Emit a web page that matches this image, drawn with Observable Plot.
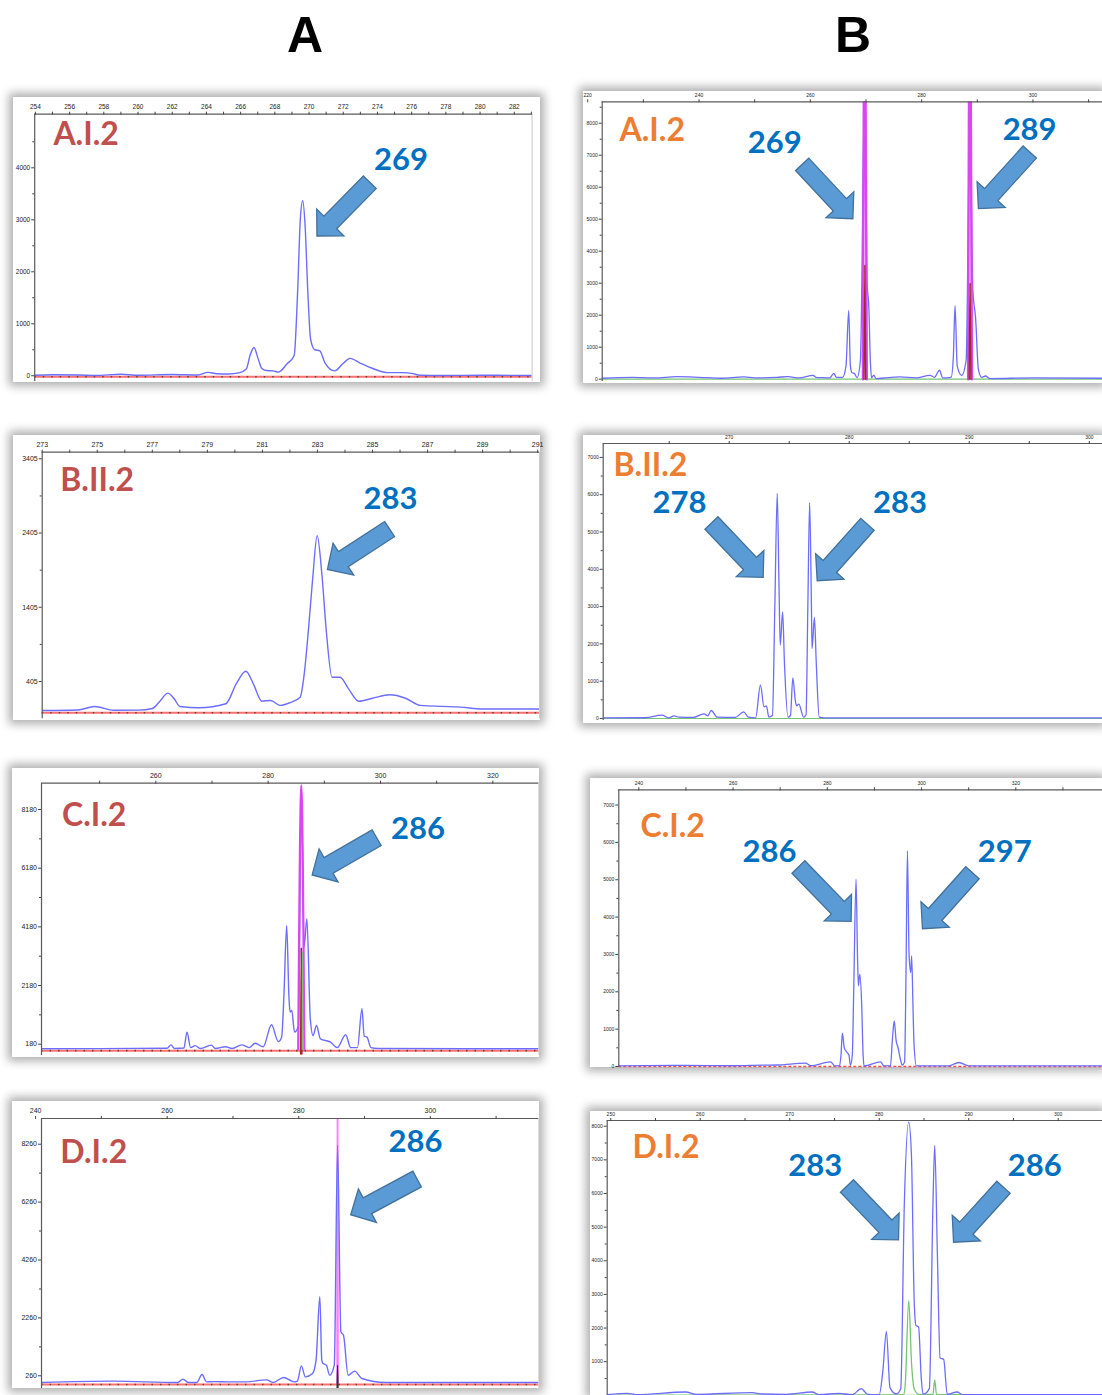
<!DOCTYPE html>
<html>
<head>
<meta charset="utf-8">
<script src="https://cdn.jsdelivr.net/npm/d3@7"></script>
<script src="https://cdn.jsdelivr.net/npm/@observablehq/plot@0.6"></script>
<style>
  html,body{margin:0;padding:0;background:#fff;}
  #page{position:relative;width:1102px;height:1395px;overflow:hidden;background:#fff;}
  .panel{position:absolute;background:#fff;box-shadow:0 0 9px 4px rgba(0,0,0,0.32);}
  .panel svg{display:block;overflow:visible;}
  .head{position:absolute;top:10px;width:100px;margin-left:-50px;text-align:center;font:bold 50px "Liberation Sans",Arial,sans-serif;line-height:50px;color:#000;}
</style>
</head>
<body>
<div id="page"></div>
<script>
// ---------------- column headers & panel titles ----------------
const headers = ["A", "B"];
const titles = ["A.I.2", "B.II.2", "C.I.2", "D.I.2"];

// ---------------- peak calls ----------------
const a1Calls = ["269"];
const a2Calls = ["283"];
const a3Calls = ["286"];
const a4Calls = ["286"];
const b1Calls = ["269", "289"];
const b2Calls = ["278", "283"];
const b3Calls = ["286", "297"];
const b4Calls = ["283", "286"];

// ---------------- tick values ----------------
const a1XLabels = [254,256,258,260,262,264,266,268,270,272,274,276,278,280,282];
const a1XMinor  = [255,257,259,261,263,265,267,269,271,273,275,277,279,281,283];
const a1YLabels = [0,1000,2000,3000,4000];
const a1YMinor  = [500,1500,2500,3500,4500];

const a2XLabels = [273,275,277,279,281,283,285,287,289,291];
const a2XMinor  = [274,276,278,280,282,284,286,288,290];
const a2YLabels = [405,1405,2405,3405];
const a2YMinor  = [905,1905,2905];

const a3XLabels = [260,280,300,320];
const a3XMinor  = [250,270,290,310];
const a3YLabels = [180,2180,4180,6180,8180];
const a3YMinor  = [1180,3180,5180,7180];

const a4XLabels = [240,260,280,300];
const a4XMinor  = [250,270,290,310];
const a4YLabels = [260,2260,4260,6260,8260];
const a4YMinor  = [1260,3260,5260,7260];

const b1XLabels = [220,240,260,280,300];
const b1XMinor  = [230,250,270,290,310];
const b1YLabels = [0,1000,2000,3000,4000,5000,6000,7000,8000];
const b1YMinor  = [500,1500,2500,3500,4500,5500,6500,7500,8500];

const b2XLabels = [270,280,290,300];
const b2XMinor  = [265,275,285,295];
const b2YLabels = [0,1000,2000,3000,4000,5000,6000,7000];
const b2YMinor  = [500,1500,2500,3500,4500,5500,6500];

const b3XLabels = [240,260,280,300,320];
const b3XMinor  = [250,270,290,310,330];
const b3YLabels = [0,1000,2000,3000,4000,5000,6000,7000];
const b3YMinor  = [500,1500,2500,3500,4500,5500,6500];

const b4XLabels = [250,260,270,280,290,300];
const b4XMinor  = [255,265,275,285,295];
const b4YLabels = [1000,2000,3000,4000,5000,6000,7000,8000];
const b4YMinor  = [500,1500,2500,3500,4500,5500,6500,7500];

// ---------------- traces: [size (bp), RFU] ----------------
const a1Blue = [[253.96,10],[255,20],[256.6,15],[257.5,5],[259,30],[260,10],[262,25],[263.5,15],[264.1,65],[264.6,40],[265.3,35],[265.9,55],[266.33,130],[266.55,390],[266.78,545],[267.03,320],[267.23,145],[267.5,100],[267.9,95],[268.2,70],[268.7,225],[269.13,390],[269.33,1600],[269.49,3010],[269.63,3365],[269.77,2880],[269.93,1600],[270.09,705],[270.33,500],[270.63,480],[270.93,250],[271.5,95],[272.0,240],[272.4,335],[273.0,240],[273.8,130],[274.6,60],[275.5,60],[276.0,45],[276.5,10],[278,5],[280,10],[283.04,5]];

const a2Blue = [[273.0,15],[274.3,22],[274.9,69],[275.6,18],[276.5,20],[277.0,42],[277.3,150],[277.56,248],[277.8,170],[278.0,69],[278.7,51],[279.67,105],[280.05,374],[280.4,544],[280.67,374],[280.98,140],[281.3,150],[281.65,83],[282.0,120],[282.37,194],[282.52,509],[282.67,1091],[282.83,1809],[282.99,2370],[283.16,1854],[283.32,1091],[283.53,463],[283.82,463],[284.13,306],[284.5,140],[285.0,180],[285.63,226],[286.2,180],[286.75,83],[287.5,70],[288.2,60],[289,35],[291.07,35]];

const a3Blue = [[239.65,23],[250,30],[262.0,40],[262.7,158],[263.3,34],[265.0,50],[265.55,590],[266.2,63],[267.0,130],[267.9,34],[269.9,147],[270.6,34],[272.4,91],[273.6,34],[275.3,158],[276.6,63],[277.7,214],[279.1,91],[280.6,841],[281.8,270],[282.4,420],[282.8,1800],[283.3,4228],[283.7,1800],[283.9,1272],[284.2,1329],[284.7,590],[285.4,818],[285.9,8800],[286.4,3500],[286.9,4456],[287.5,1044],[288.0,476],[288.6,818],[289.3,363],[291.1,250],[292.3,63],[293.8,500],[294.7,63],[295.9,63],[296.7,1386],[297.1,453],[297.6,420],[298.3,63],[299.5,34],[328.2,23]];
const a3Magenta = [[285.35,0],[285.9,9000],[286.45,0]];
const a3Dark = [[285.8,-150],[285.9,3450],[286.0,-150]];
const a3Green = [[286.05,0],[286.12,3300],[286.2,0]];

const a4Blue = [[240.9,29],[251.8,75],[261.6,29],[262.4,143],[263.2,29],[264.5,29],[265.3,305],[266.0,50],[267.1,60],[269.4,50],[272.0,50],[275.1,120],[276.1,29],[277.7,200],[279.3,50],[279.8,80],[280.4,604],[281.0,224],[282.1,340],[282.63,800],[283.2,2989],[283.5,800],[283.7,685],[284.2,627],[284.7,281],[285.4,627],[285.9,8225],[286.4,1780],[286.8,1664],[287.5,281],[288.5,420],[289.6,166],[293.2,29],[316.5,29]];
const a4Magenta = [[285.82,0],[285.9,14000],[285.98,0]];
const a4Dark = [[285.84,-150],[285.9,627],[285.96,-150]];

const b1Blue = [[222.6,30],[228,60],[232,40],[236,80],[240,60],[244,30],[248,70],[250,40],[254,60],[256,80],[258,40],[260.5,120],[261,60],[262,50],[263.5,40],[264.2,180],[264.7,60],[265.8,60],[266.4,400],[266.9,2150],[267.2,400],[267.5,200],[267.9,180],[268.4,50],[269.0,600],[269.8,9500],[270.2,3000],[270.5,2300],[270.8,500],[271.0,40],[271.4,130],[271.8,20],[274,50],[276,70],[279,40],[281.5,120],[282.3,60],[283.2,280],[283.8,40],[285.3,60],[285.7,700],[286.0,2300],[286.4,400],[287.2,120],[288.0,600],[288.7,8450],[289.2,2800],[289.7,1900],[290.2,300],[290.8,60],[291.5,100],[292.2,20],[300,40],[312.5,30]];
const b1Magenta269 = [[269.45,0],[269.8,14000],[270.15,0]];
const b1Magenta289 = [[288.35,0],[288.7,14000],[289.05,0]];
const b1Dark269 = [[269.65,0],[269.8,3560],[269.95,0]];
const b1Dark289 = [[288.55,0],[288.7,2990],[288.85,0]];

const b2Blue = [[259.5,18],[263,20],[264.4,89],[264.96,18],[265.4,71],[265.8,36],[267.0,30],[267.9,125],[268.2,71],[268.5,214],[269.0,36],[270.5,30],[271.2,179],[271.6,36],[272.2,18],[272.6,893],[272.9,313],[273.1,340],[273.3,36],[273.6,80],[273.8,3000],[274.0,6032],[274.15,3500],[274.25,1966],[274.45,2860],[274.6,1500],[274.9,36],[275.1,80],[275.3,1090],[275.5,500],[275.6,340],[275.8,385],[276.2,36],[276.4,100],[276.55,3000],[276.7,5790],[276.85,3000],[276.9,1877],[277.1,2708],[277.25,1500],[277.5,36],[278,18],[301.1,18]];

const b3Blue = [[235.75,18],[250,30],[260,20],[266.2,36],[269.4,40],[275.4,89],[276.5,20],[280.7,125],[281.6,18],[282.6,18],[282.9,300],[283.2,893],[283.6,500],[284.2,375],[284.6,300],[284.9,30],[285.3,300],[285.6,2000],[286.1,5015],[286.4,3000],[286.6,2159],[286.9,2471],[287.3,1624],[287.6,300],[287.8,18],[291.3,125],[292.0,18],[293.4,18],[293.8,700],[294.2,1222],[294.6,700],[295.0,509],[295.5,200],[295.9,40],[296.4,120],[296.7,2500],[297.0,5775],[297.35,3000],[297.7,2517],[297.9,2963],[298.2,1500],[298.4,600],[298.9,18],[305.8,18],[307.9,107],[310.0,18],[338.4,18]];

const b4Blue = [[249.6,20],[251.9,60],[252.8,20],[258.4,99],[259.5,30],[265.8,80],[266.9,40],[269.6,30],[272.5,99],[273.3,20],[275.5,60],[277.0,20],[278.0,198],[278.7,30],[280.0,20],[280.4,713],[280.8,1901],[281.2,228],[281.9,40],[282.4,198],[282.8,5645],[283.3,8120],[283.6,7130],[283.9,2872],[284.1,2080],[284.4,2030],[284.7,495],[284.9,30],[285.6,198],[286.0,5645],[286.2,7427],[286.5,4159],[286.8,1109],[287.2,1069],[287.6,30],[288.7,99],[289.3,20],[304.95,20]];
const b4Green = [[249.6,0],[282.7,10],[282.9,300],[283.3,2822],[283.6,1000],[283.9,200],[284.4,30],[286.0,30],[286.2,460],[286.4,30],[304.95,0]];

// ---------------- styling constants ----------------
const BLUE = "#6c6cff", MAGENTA = "#dc46f0", PINK = "#ff80ff", DARK = "#9e2a2a", GREEN = "#74c474";
const RED_A = "#ff6f6f", TITLE_A = "#c0504d", TITLE_B = "#ed7d31", CALL = "#0070c0";
const FONT = "Lato, 'Open Sans', sans-serif";

// ---------------- layout of the eight panels ----------------
const panels = [
  {box:[12.7,97,527.1,285], margin:[16.7,8.5,1,21.2], xd:[253.96,283.04], yd:[-110,5031],
   xLabels:a1XLabels, xMinor:a1XMinor, yLabels:a1YLabels, yMinor:a1YMinor, tickFont:6.5,
   title:titles[0], titleColor:TITLE_A, titleDx:18.7, titleDy:8.3,
   base:{y:-20, color:RED_A, width:2, noise:true},
   traces:[{data:a1Blue, color:BLUE, width:1.4}],
   calls:a1Calls, callPos:[[275.38,4150]], arrows:[[273.58,3712,270.49,2679]]},
  {box:[12.7,435,527.8,285], margin:[16.7,1.7,1.7,28.7], xd:[273,291.07], yd:[-97,3494],
   xLabels:a2XLabels, xMinor:a2XMinor, yLabels:a2YLabels, yMinor:a2YMinor, tickFont:7,
   title:titles[1], titleColor:TITLE_A, titleDx:18.1, titleDy:16.3,
   base:{y:-15, color:RED_A, width:2, noise:true},
   traces:[{data:a2Blue, color:BLUE, width:1.4}],
   calls:a2Calls, callPos:[[285.65,2868]], arrows:[[285.64,2451,283.38,1908]]},
  {box:[11.7,768,527.1,289], margin:[14.7,0.7,2,29], xd:[239.65,328.2], yd:[-205,9077],
   xLabels:a3XLabels, xMinor:a3XMinor, yLabels:a3YLabels, yMinor:a3YMinor, tickFont:7,
   title:titles[2], titleColor:TITLE_A, titleDx:20.5, titleDy:20.3,
   base:{y:-40, color:RED_A, width:2, noise:true},
   traces:[{data:a3Blue, color:BLUE, width:1.4},{data:a3Magenta, color:MAGENTA, width:2.2},{data:a3Dark, color:DARK, width:1.6},{data:a3Green, color:GREEN, width:1}],
   calls:a3Calls, callPos:[[306.68,7500]], arrows:[[299.4,7203,287.92,5932]]},
  {box:[11.7,1101,527.1,287], margin:[17,0.7,0,29], xd:[240.9,316.5], yd:[-178,9148],
   xLabels:a4XLabels, xMinor:a4XMinor, yLabels:a4YLabels, yMinor:a4YMinor, tickFont:7,
   title:titles[3], titleColor:TITLE_A, titleDx:18.8, titleDy:22,
   base:{y:-40, color:RED_A, width:2, noise:true},
   traces:[{data:a4Magenta, color:PINK, width:1.6},{data:a4Blue, color:BLUE, width:1.4},{data:a4Dark, color:"#303030", width:1.4}],
   calls:a4Calls, callPos:[[297.73,8336]], arrows:[[298.07,7041,287.97,5808]]},
  {box:[583,91,519,292], margin:[10.3,0,2,18.7], xd:[222.6,312.5], yd:[-72,8669],
   xLabels:b1XLabels, xMinor:b1XMinor, yLabels:b1YLabels, yMinor:b1YMinor, tickFont:5,
   title:titles[0], titleColor:TITLE_B, titleDx:17.3, titleDy:16.7,
   base:{y:0, color:GREEN, width:1.2},
   traces:[{data:b1Blue, color:BLUE, width:1.3},{data:b1Magenta269, color:MAGENTA, width:2.4},{data:b1Magenta289, color:MAGENTA, width:2.4},{data:b1Dark269, color:DARK, width:1.4},{data:b1Dark289, color:DARK, width:1.4}],
   calls:b1Calls, callPos:[[253.59,7381],[299.4,7788]], arrows:[[258.62,6700,267.73,5000],[299.52,7084,290.29,5313]]},
  {box:[583,435,519,288], margin:[8,0,3,19.7], xd:[259.5,301.1], yd:[-54,7373],
   xLabels:b2XLabels, xMinor:b2XMinor, yLabels:b2YLabels, yMinor:b2YMinor, tickFont:5,
   title:titles[1], titleColor:TITLE_B, titleDx:10.3, titleDy:10,
   base:{y:0, color:GREEN, width:1.2},
   traces:[{data:b2Blue, color:BLUE, width:1.3}],
   calls:b2Calls, callPos:[[265.85,5764],[284.23,5764]], arrows:[[268.56,5228,272.87,3772],[281.56,5193,277.37,3681]]},
  {box:[590,778,512,289], margin:[11.3,0,0,28.3], xd:[235.75,338.4], yd:[-27,7408],
   xLabels:b3XLabels, xMinor:b3XMinor, yLabels:b3YLabels, yMinor:b3YMinor, tickFont:5,
   title:titles[2], titleColor:TITLE_B, titleDx:21.7, titleDy:24.7,
   base:{y:0, color:"#ff4a4a", width:1.4, dash:"3,2"},
   traces:[{data:b3Blue, color:BLUE, width:1.3}],
   calls:b3Calls, callPos:[[267.75,5743],[317.64,5743]], arrows:[[273.97,5328,285.16,3874],[310.91,5175,300.3,3676]]},
  {box:[590,1111,512,284], margin:[9,0,0,16.7], xd:[249.6,304.95], yd:[-5,8170],
   xLabels:b4XLabels, xMinor:b4XMinor, yLabels:b4YLabels, yMinor:b4YMinor, tickFont:5,
   title:titles[3], titleColor:TITLE_B, titleDx:25.3, titleDy:15,
   base:{y:0, color:GREEN, width:1.2},
   traces:[{data:b4Green, color:GREEN, width:1.3},{data:b4Blue, color:BLUE, width:1.3}],
   calls:b4Calls, callPos:[[272.85,6818],[297.37,6818]], arrows:[[276.45,6209,282.21,4605],[293.94,6171,288.36,4537]]}
];

// block arrow drawn through the chart's scales
function blockArrows(arrows) {
  return (index, scales) => {
    const g = d3.create("svg:g");
    for (const [ax, ay, bx, by] of arrows) {
      const x0 = scales.x(ax), y0 = scales.y(ay), x1 = scales.x(bx), y1 = scales.y(by);
      const dx = x1 - x0, dy = y1 - y0, len = Math.hypot(dx, dy);
      const ux = dx / len, uy = dy / len, px = -uy, py = ux;
      const sw = 9, hw = 19, hl = 19;
      const hx = x1 - ux * hl, hy = y1 - uy * hl;
      const pts = [
        [x0 + px * sw, y0 + py * sw], [hx + px * sw, hy + py * sw], [hx + px * hw, hy + py * hw],
        [x1, y1],
        [hx - px * hw, hy - py * hw], [hx - px * sw, hy - py * sw], [x0 - px * sw, y0 - py * sw]
      ];
      g.append("polygon")
        .attr("points", pts.map(p => p.join(",")).join(" "))
        .attr("fill", "#5b9bd5").attr("stroke", "#41719c").attr("stroke-width", 1.3)
        .attr("stroke-linejoin", "miter");
    }
    return g.node();
  };
}

const page = document.getElementById("page");
headers.forEach((h, i) => {
  const d = document.createElement("div");
  d.className = "head";
  d.style.left = (i === 0 ? 305 : 853) + "px";
  d.textContent = h;
  page.appendChild(d);
});

for (const p of panels) {
  const [L, T, W, H] = p.box;
  const [mt, mr, mb, ml] = p.margin;
  const marks = [];
  marks.push(Plot.ruleY([p.base.y], {stroke: p.base.color, strokeWidth: p.base.width, strokeDasharray: p.base.dash}));
  if (p.base.noise) marks.push(Plot.ruleY([p.base.y], {stroke: "#243824", strokeWidth: 1.6, strokeDasharray: "1.5,7", strokeOpacity: 0.75}));
  for (const t of p.traces) {
    marks.push(Plot.line(t.data, {x: d => d[0], y: d => d[1], stroke: t.color, strokeWidth: t.width, curve: "monotone-x", clip: true}));
  }
  marks.push(Plot.ruleX([p.xd[0]], {stroke: "#5a5a5a", strokeWidth: 1.2}));
  marks.push(Plot.ruleY([p.yd[1]], {stroke: "#5a5a5a", strokeWidth: 1.2}));
  marks.push(Plot.ruleX([p.xd[1]], {stroke: "#c8c8c8", strokeWidth: 1}));
  marks.push(Plot.axisX(p.xLabels, {anchor: "top", tickSize: 3, tickPadding: 2, fontSize: p.tickFont, label: null, stroke: "#444", fill: "#222", tickFormat: d => String(d)}));
  marks.push(Plot.axisX(p.xMinor, {anchor: "top", tickSize: 3, label: null, stroke: "#444", tickFormat: () => ""}));
  marks.push(Plot.axisY(p.yLabels, {anchor: "left", tickSize: 3, tickPadding: 1.5, fontSize: p.tickFont, label: null, stroke: "#444", fill: "#222", tickFormat: d => String(d)}));
  marks.push(Plot.axisY(p.yMinor, {anchor: "left", tickSize: 2, label: null, stroke: "#444", tickFormat: () => ""}));
  marks.push(blockArrows(p.arrows));
  marks.push(Plot.text([p.title], {frameAnchor: "top-left", dx: p.titleDx, dy: p.titleDy, lineAnchor: "top", textAnchor: "start",
    fontSize: 32, fontWeight: "bold", fill: p.titleColor, fontFamily: FONT}));
  marks.push(Plot.text(p.calls, {x: (d, i) => p.callPos[i][0], y: (d, i) => p.callPos[i][1], text: d => d,
    textAnchor: "middle", lineAnchor: "middle", fontSize: 31, fontWeight: "bold", fill: CALL, fontFamily: FONT}));

  const svg = Plot.plot({
    width: W, height: H,
    marginTop: mt, marginRight: mr, marginBottom: mb, marginLeft: ml,
    x: {domain: p.xd, axis: null},
    y: {domain: p.yd, axis: null},
    style: {background: "transparent", fontFamily: "'Liberation Sans', Arial, sans-serif", overflow: "visible"},
    marks
  });
  const div = document.createElement("div");
  div.className = "panel";
  div.style.left = L + "px";
  div.style.top = T + "px";
  div.style.width = W + "px";
  div.style.height = H + "px";
  div.appendChild(svg);
  page.appendChild(div);
}
</script>
</body>
</html>
